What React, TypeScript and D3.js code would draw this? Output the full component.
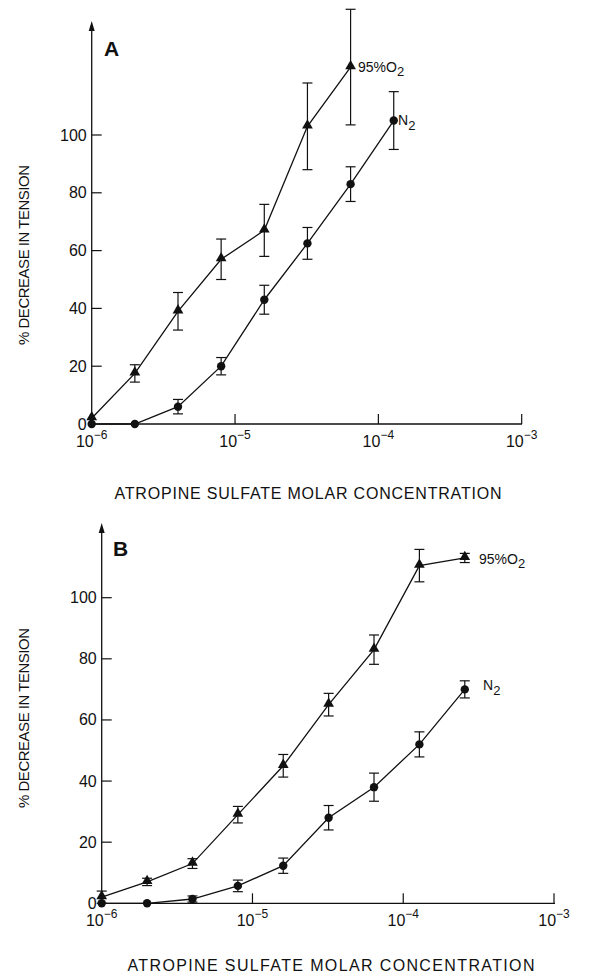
import React from "react";
import * as d3 from "d3";

// molar concentrations (doubling steps)
const concA = [1e-6, 2e-6, 4e-6, 8e-6, 1.6e-5, 3.2e-5, 6.4e-5, 1.28e-4];
const concB = [1e-6, 2e-6, 4e-6, 8e-6, 1.6e-5, 3.2e-5, 6.4e-5, 1.28e-4, 2.56e-4];

// panel A: % decrease in tension
const o2A = [2, 17.5, 39, 57, 67, 103, 123.5];
const o2AErr = [0, 3, 6.5, 7, 9, 15, 20];
const n2A = [0, 0, 6, 20, 43, 62.5, 83, 105];
const n2AErr = [0, 0, 2.5, 3, 5, 5.5, 6, 10];

// panel B
const o2B = [2, 7, 13, 29, 45, 65, 83, 110.5, 113];
const o2BErr = [2, 1.2, 1.6, 2.7, 3.7, 3.7, 4.8, 5.3, 1.5];
const n2B = [0, 0, 1.4, 5.7, 12.3, 28, 38, 52, 70];
const n2BErr = [0, 0, 1, 1.9, 2.5, 4, 4.6, 4.1, 2.8];

const yTicks = [0, 20, 40, 60, 80, 100];
const xTicks = [1e-6, 1e-5, 1e-4, 1e-3];

const FONT = "'Liberation Sans', Arial, sans-serif";
const INK = "#111";

type Series = { conc: number[]; vals: number[]; errs: number[]; marker: "tri" | "dot" };

type PanelProps = {
  letter: string;
  left: number;
  right: number;
  bottom: number;
  top100: number;
  arrowTop: number;
  axisEnd: number;
  o2: Series;
  n2: Series;
  o2Label: [number, number];
  n2Label: [number, number];
  letterPos: [number, number];
  yLabelY: number;
  yLabelLen: number;
  xLabelY: number;
  xLabelX: number;
  xLabelLen: number;
};

const Panel = (p: PanelProps) => {
  const x = d3.scaleLog().domain([1e-6, 1e-3]).range([p.left, p.right]);
  const y = d3.scaleLinear().domain([0, 100]).range([p.bottom, p.top100]);
  const line = d3
    .line<[number, number]>()
    .x((d) => x(d[0]))
    .y((d) => y(d[1]));
  const tri = d3.symbol().type(d3.symbolTriangle).size(50)()!;

  const drawSeries = (s: Series) => {
    const pts = s.vals.map((v, i) => [s.conc[i], v] as [number, number]);
    return (
      <g>
        <path d={line(pts)!} fill="none" stroke={INK} strokeWidth={1.3} />
        {pts.map((d, i) => {
          const cx = x(d[0]);
          const e = s.errs[i];
          return (
            <g key={i}>
              {e > 0 && (
                <g stroke={INK} strokeWidth={1.2}>
                  <line x1={cx} x2={cx} y1={y(d[1] - e)} y2={y(d[1] + e)} />
                  <line x1={cx - 5} x2={cx + 5} y1={y(d[1] - e)} y2={y(d[1] - e)} />
                  <line x1={cx - 5} x2={cx + 5} y1={y(d[1] + e)} y2={y(d[1] + e)} />
                </g>
              )}
              {s.marker === "tri" ? (
                <path d={tri} transform={`translate(${cx},${y(d[1]) - 1})`} fill={INK} />
              ) : (
                <circle cx={cx} cy={y(d[1])} r={4.2} fill={INK} />
              )}
            </g>
          );
        })}
      </g>
    );
  };

  return (
    <g fontFamily={FONT} fill={INK}>
      {/* y axis with arrow */}
      <line x1={p.left} x2={p.left} y1={p.bottom} y2={p.arrowTop + 6} stroke={INK} strokeWidth={1.3} />
      <path
        d={`M${p.left},${p.arrowTop} L${p.left - 3},${p.arrowTop + 10} L${p.left + 3},${p.arrowTop + 10} Z`}
        fill={INK}
      />
      {yTicks.map((t) => (
        <g key={t}>
          {t > 0 && (
            <line x1={p.left} x2={p.left + 10} y1={y(t)} y2={y(t)} stroke={INK} strokeWidth={1.2} />
          )}
          <text x={p.left - 5} y={y(t) + 5.5} textAnchor="end" fontSize={16}>
            {t}
          </text>
        </g>
      ))}
      {/* x axis */}
      <line x1={p.left} x2={p.axisEnd} y1={p.bottom} y2={p.bottom} stroke={INK} strokeWidth={1.3} />
      {xTicks.map((t, i) => (
        <g key={t}>
          {i > 0 && (
            <line x1={x(t)} x2={x(t)} y1={p.bottom} y2={p.bottom - 10} stroke={INK} strokeWidth={1.2} />
          )}
          <text x={x(t)} y={p.bottom + 23} textAnchor="middle" fontSize={16}>
            10
            <tspan fontSize={12} dy={-8}>
              {"\u2212" + Math.round(-Math.log10(t))}
            </tspan>
          </text>
        </g>
      ))}
      {drawSeries(p.n2)}
      {drawSeries(p.o2)}
      <text x={p.letterPos[0]} y={p.letterPos[1]} fontSize={21} fontWeight="bold">
        {p.letter}
      </text>
      <text x={p.o2Label[0]} y={p.o2Label[1]} fontSize={14}>
        95%O
        <tspan fontSize={13} dy={4}>
          2
        </tspan>
      </text>
      <text x={p.n2Label[0]} y={p.n2Label[1]} fontSize={14}>
        N
        <tspan fontSize={13} dy={5}>
          2
        </tspan>
      </text>
      <text
        transform={`translate(29,${p.yLabelY}) rotate(-90)`}
        textAnchor="middle"
        fontSize={15}
        textLength={p.yLabelLen}
        lengthAdjust="spacing"
      >
        % DECREASE IN TENSION
      </text>
      <text
        x={p.xLabelX}
        y={p.xLabelY}
        textAnchor="middle"
        fontSize={16}
        textLength={p.xLabelLen}
        lengthAdjust="spacing"
      >
        ATROPINE SULFATE MOLAR CONCENTRATION
      </text>
    </g>
  );
};

export default function App() {
  return (
    <svg
      width={590}
      height={976}
      style={{ position: "absolute", left: 0, top: 0, background: "#fff" }}
    >
      <Panel
        letter="A"
        left={91.7}
        right={521.7}
        bottom={424}
        top100={135}
        arrowTop={21}
        axisEnd={522}
        o2={{ conc: concA, vals: o2A, errs: o2AErr, marker: "tri" }}
        n2={{ conc: concA, vals: n2A, errs: n2AErr, marker: "dot" }}
        o2Label={[358, 72]}
        n2Label={[398, 125]}
        letterPos={[104, 56]}
        yLabelY={255}
        yLabelLen={180}
        xLabelX={308}
        xLabelY={499}
        xLabelLen={387}
      />
      <Panel
        letter="B"
        left={101.7}
        right={554}
        bottom={903.3}
        top100={597.7}
        arrowTop={523}
        axisEnd={555}
        o2={{ conc: concB, vals: o2B, errs: o2BErr, marker: "tri" }}
        n2={{ conc: concB, vals: n2B, errs: n2BErr, marker: "dot" }}
        o2Label={[479, 564]}
        n2Label={[483, 690]}
        letterPos={[113, 556]}
        yLabelY={718}
        yLabelLen={180}
        xLabelX={331}
        xLabelY={971}
        xLabelLen={407}
      />
    </svg>
  );
}
